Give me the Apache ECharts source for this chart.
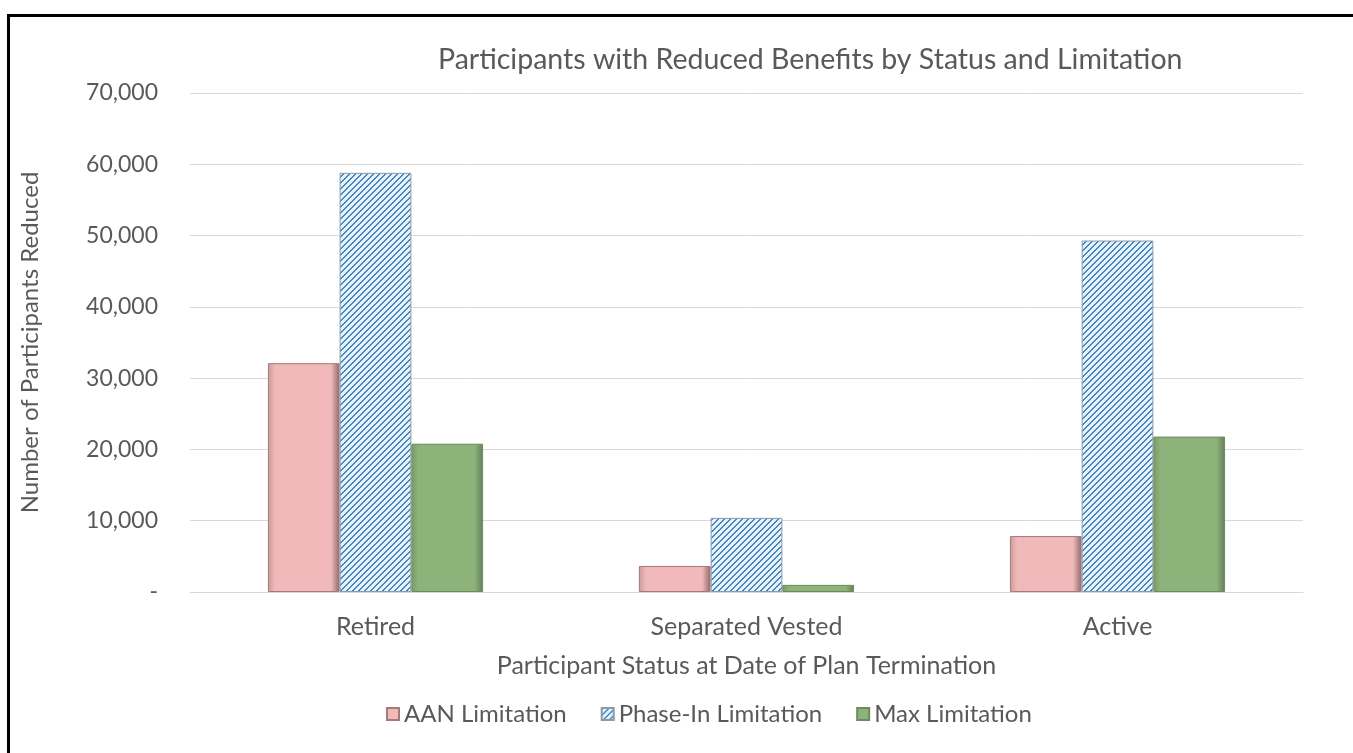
<!DOCTYPE html>
<html>
<head>
<meta charset="utf-8">
<script src="https://cdn.jsdelivr.net/npm/echarts@6/dist/echarts.min.js"></script>
<style>
  html, body { margin: 0; padding: 0; background: #fff; }
  #frame { position: absolute; left: 7px; top: 14px; width: 1343px; height: 760px;
           border: 3px solid #000; border-bottom: none; }
  #chart { position: absolute; left: 0; top: 0; width: 1353px; height: 753px; }
</style>
</head>
<body>
<div id="frame"></div>
<div id="chart"></div>
<script>
// categories and values
const categories = ["Retired", "Separated Vested", "Active"];
const aanValues = [32100, 3650, 7850];
const phaseInValues = [58800, 10400, 49300];
const maxValues = [20800, 1000, 21800];
const seriesNames = ["AAN Limitation", "Phase-In Limitation", "Max Limitation"];

const textColor = "#595959";
const font = "Lato";

// diagonal stripe pattern for Phase-In
function stripePattern() {
  const c = document.createElement("canvas");
  c.width = 6; c.height = 6;
  const ctx = c.getContext("2d");
  ctx.fillStyle = "#e4f3fb";
  ctx.fillRect(0, 0, 6, 6);
  ctx.fillStyle = "#4a86bd";
  for (let x = 0; x < 6; x++) {
    for (let y = 0; y < 6; y++) {
      if ((x + y) % 6 < 2) ctx.fillRect(x, y, 1, 1);
    }
  }
  return c;
}

function bevel(edgeL, mid, edgeR) {
  return {
    type: "linear", x: 0, y: 0, x2: 1, y2: 0,
    colorStops: [
      { offset: 0, color: edgeL },
      { offset: 0.1, color: mid },
      { offset: 0.88, color: mid },
      { offset: 1, color: edgeR }
    ]
  };
}

const chart = echarts.init(document.getElementById("chart"));
chart.setOption({
  animation: false,
  textStyle: { fontFamily: font },
  title: {
    text: "Participants with Reduced Benefits by Status and Limitation",
    left: 433,
    top: 40,
    textStyle: { fontFamily: font, fontSize: 28.5, fontWeight: "normal", color: textColor }
  },
  grid: { left: 190, right: 50, top: 93, bottom: 161 },
  legend: {
    left: 381,
    top: 697,
    icon: "rect",
    itemWidth: 12,
    itemHeight: 12,
    itemGap: 34,
    textStyle: { fontFamily: font, fontSize: 24, color: textColor },
    data: seriesNames
  },
  xAxis: {
    type: "category",
    data: categories,
    name: "Participant Status at Date of Plan Termination",
    nameLocation: "middle",
    nameGap: 61,
    nameTextStyle: { fontFamily: font, fontSize: 25, color: textColor },
    axisLine: { lineStyle: { color: "#d9d9d9", width: 1 } },
    axisTick: { show: false },
    axisLabel: { fontFamily: font, fontSize: 25, color: textColor, margin: 22 }
  },
  yAxis: {
    type: "value",
    min: 0,
    max: 70000,
    interval: 10000,
    name: "Number of Participants Reduced",
    nameLocation: "middle",
    nameGap: 148,
    nameTextStyle: { fontFamily: font, fontSize: 24, color: textColor },
    axisLine: { show: false },
    axisTick: { show: false },
    axisLabel: {
      fontFamily: font, fontSize: 23, color: textColor, margin: 32,
      formatter: v => v === 0 ? "-" : v.toLocaleString("en-US")
    },
    splitLine: { lineStyle: { color: "#d9d9d9", width: 1 } }
  },
  series: [
    {
      name: seriesNames[0],
      type: "bar",
      data: aanValues,
      barGap: "0%",
      barCategoryGap: "42%",
      itemStyle: {
        color: bevel("#c99a9a", "#f1b9b9", "#8f6868"),
        borderColor: "#a37b7b",
        borderWidth: 1
      }
    },
    {
      name: seriesNames[1],
      type: "bar",
      data: phaseInValues,
      itemStyle: {
        color: { image: stripePattern(), repeat: "repeat" },
        borderColor: "#8a9aa8",
        borderWidth: 1
      }
    },
    {
      name: seriesNames[2],
      type: "bar",
      data: maxValues,
      itemStyle: {
        color: bevel("#7a9a69", "#8db37a", "#62805a"),
        borderColor: "#6d8a5f",
        borderWidth: 1
      }
    }
  ]
});
</script>
</body>
</html>
